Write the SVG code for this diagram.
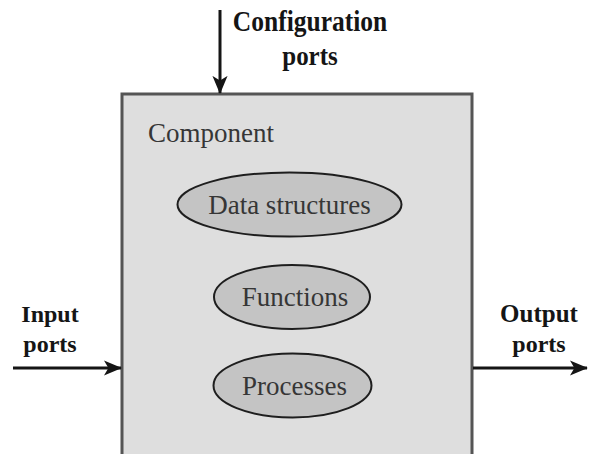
<svg xmlns="http://www.w3.org/2000/svg" width="589" height="454" viewBox="0 0 589 454">
<style>
.lbl{font-family:"Liberation Serif","Times New Roman",serif;font-weight:bold;font-size:24px;fill:#151515;text-anchor:middle;}
.in{font-family:"Liberation Serif","Times New Roman",serif;font-size:27px;fill:#363636;}
.ell{fill:#c4c4c4;stroke:#1e1e1e;stroke-width:2;}
.wire{stroke:#151515;stroke-width:3;fill:none;}
</style>
<defs>
<marker id="ah" viewBox="0 0 10 10" refX="9.5" refY="5" markerWidth="6" markerHeight="6" orient="auto" markerUnits="strokeWidth">
<path d="M0,0.8 L10,5 L0,9.2 L2.5,5 Z" fill="#151515"/>
</marker>
</defs>
<g id="component">
<rect x="122" y="94" width="350" height="380" fill="#dedede" stroke="#555" stroke-width="3"/>
<text class="in" x="148" y="142">Component</text>
</g>
<g id="data-structures">
<ellipse class="ell" cx="289.5" cy="204.5" rx="112" ry="32"/>
<text class="in" x="289.5" y="213.5" text-anchor="middle">Data structures</text>
</g>
<g id="functions">
<ellipse class="ell" cx="292" cy="297" rx="78" ry="32"/>
<text class="in" x="295" y="306" text-anchor="middle">Functions</text>
</g>
<g id="processes">
<ellipse class="ell" cx="292.5" cy="385.5" rx="79" ry="32"/>
<text class="in" x="294.5" y="394.5" text-anchor="middle">Processes</text>
</g>
<g id="labels">
<text class="lbl" transform="translate(310,31) scale(1,1.12)" style="font-size:25.5px">Configuration</text>
<text class="lbl" transform="translate(310,65) scale(1,1.12)" style="font-size:25px">ports</text>
<text class="lbl" x="50" y="322">Input</text>
<text class="lbl" x="50" y="352">ports</text>
<text class="lbl" x="539" y="322" style="font-size:25px">Output</text>
<text class="lbl" x="539" y="352">ports</text>
</g>
<g id="connectors">
<line class="wire" x1="220" y1="10" x2="220" y2="93" marker-end="url(#ah)"/>
<line class="wire" x1="13" y1="368" x2="121" y2="368" marker-end="url(#ah)"/>
<line class="wire" x1="473" y1="368" x2="587" y2="368" marker-end="url(#ah)"/>
</g>
</svg>
